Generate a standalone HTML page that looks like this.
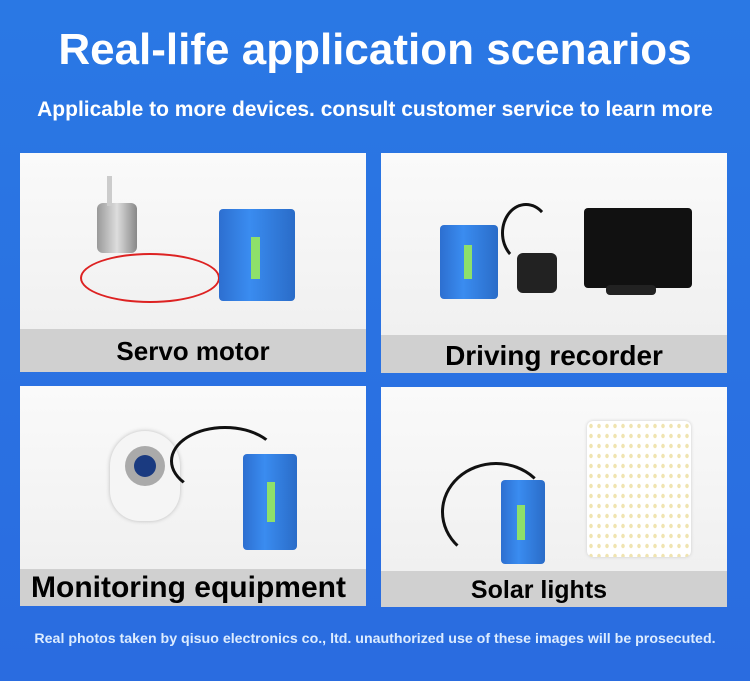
<!DOCTYPE html><html><head><meta charset="utf-8"><style>
*{margin:0;padding:0;box-sizing:border-box}
body{width:750px;height:681px;overflow:hidden;background:linear-gradient(#2a78e4,#2a6ce0);font-family:"Liberation Sans","DejaVu Sans",sans-serif;position:relative}
.t{position:absolute;left:0;width:750px;text-align:center;color:#fff;font-weight:bold;white-space:nowrap}
.p{position:absolute;background:linear-gradient(#fafafa,#eeeeee);overflow:hidden}
.l{position:absolute;left:0;right:0;bottom:0;background:#d0d0d0;color:#000;font-weight:bold;text-align:center;white-space:nowrap}
.bat{position:absolute;background:linear-gradient(90deg,#2d6fd0,#3a8cf0 40%,#2a6cc8);border-radius:4px}
.g{position:absolute;background:#8ee06a}
.w{position:absolute;border:3px solid #111;border-radius:50%}
</style></head><body>
<div class="t" style="top:25px;font-size:44px">Real-life application scenarios</div>
<div class="t" style="top:98px;font-size:21px">Applicable to more devices. consult customer service to learn more</div>

<div class="p" style="left:20px;top:153px;width:346px;height:219px">
 <div class="w" style="left:60px;top:100px;width:140px;height:50px;border-color:#d22;border-width:2px"></div>
 <div style="position:absolute;left:77px;top:50px;width:40px;height:50px;background:linear-gradient(90deg,#999,#ddd,#888);border-radius:6px"></div>
 <div style="position:absolute;left:87px;top:23px;width:5px;height:30px;background:#ccc"></div>
 <div class="bat" style="left:199px;top:56px;width:76px;height:92px"><div class="g" style="left:32px;top:28px;width:9px;height:42px"></div></div>
 <div class="l" style="height:43px;font-size:26px;line-height:45px">Servo motor</div>
</div>

<div class="p" style="left:381px;top:153px;width:346px;height:220px">
 <div class="bat" style="left:59px;top:72px;width:58px;height:74px"><div class="g" style="left:24px;top:20px;width:8px;height:34px"></div></div>
 <div style="position:absolute;left:136px;top:100px;width:40px;height:40px;background:#222;border-radius:6px"></div>
 <div style="position:absolute;left:203px;top:55px;width:108px;height:80px;background:#111;border-radius:4px"></div>
 <div style="position:absolute;left:225px;top:132px;width:50px;height:10px;background:#222;border-radius:4px"></div>
 <div class="w" style="left:120px;top:50px;width:50px;height:60px;border-right-color:transparent;border-bottom-color:transparent"></div>
 <div class="l" style="height:38px;font-size:28px;line-height:42px">Driving recorder</div>
</div>

<div class="p" style="left:20px;top:386px;width:346px;height:220px">
 <div style="position:absolute;left:90px;top:45px;width:70px;height:90px;background:#f5f5f5;border-radius:35px 35px 30px 30px;box-shadow:0 0 4px #bbb"></div>
 <div style="position:absolute;left:105px;top:60px;width:40px;height:40px;border-radius:50%;background:#aaa"></div>
 <div style="position:absolute;left:114px;top:69px;width:22px;height:22px;border-radius:50%;background:#1a3a80"></div>
 <div class="w" style="left:150px;top:40px;width:110px;height:70px;border-right-color:transparent;border-bottom-color:transparent"></div>
 <div class="bat" style="left:223px;top:68px;width:54px;height:96px"><div class="g" style="left:24px;top:28px;width:8px;height:40px"></div></div>
 <div class="l" style="height:37px;font-size:30px;line-height:38px;text-align:left;padding-left:11px">Monitoring equipment</div>
</div>

<div class="p" style="left:381px;top:387px;width:346px;height:220px">
 <div class="w" style="left:60px;top:75px;width:110px;height:100px;border-right-color:transparent;border-bottom-color:transparent"></div>
 <div class="bat" style="left:120px;top:93px;width:44px;height:84px"><div class="g" style="left:16px;top:25px;width:8px;height:35px"></div></div>
 <div style="position:absolute;left:206px;top:34px;width:104px;height:136px;background-color:#fff;border-radius:6px;box-shadow:0 0 3px #ccc;background-image:radial-gradient(#f0e4b0 1.5px,transparent 2px);background-size:8px 10px"></div>
 <div class="l" style="height:36px;font-size:25px;line-height:38px;padding-right:30px">Solar lights</div>
</div>

<div class="t" style="top:631px;font-size:14.2px;color:#dcecff">Real photos taken by qisuo electronics co., ltd. unauthorized use of these images will be prosecuted.</div>
</body></html>
